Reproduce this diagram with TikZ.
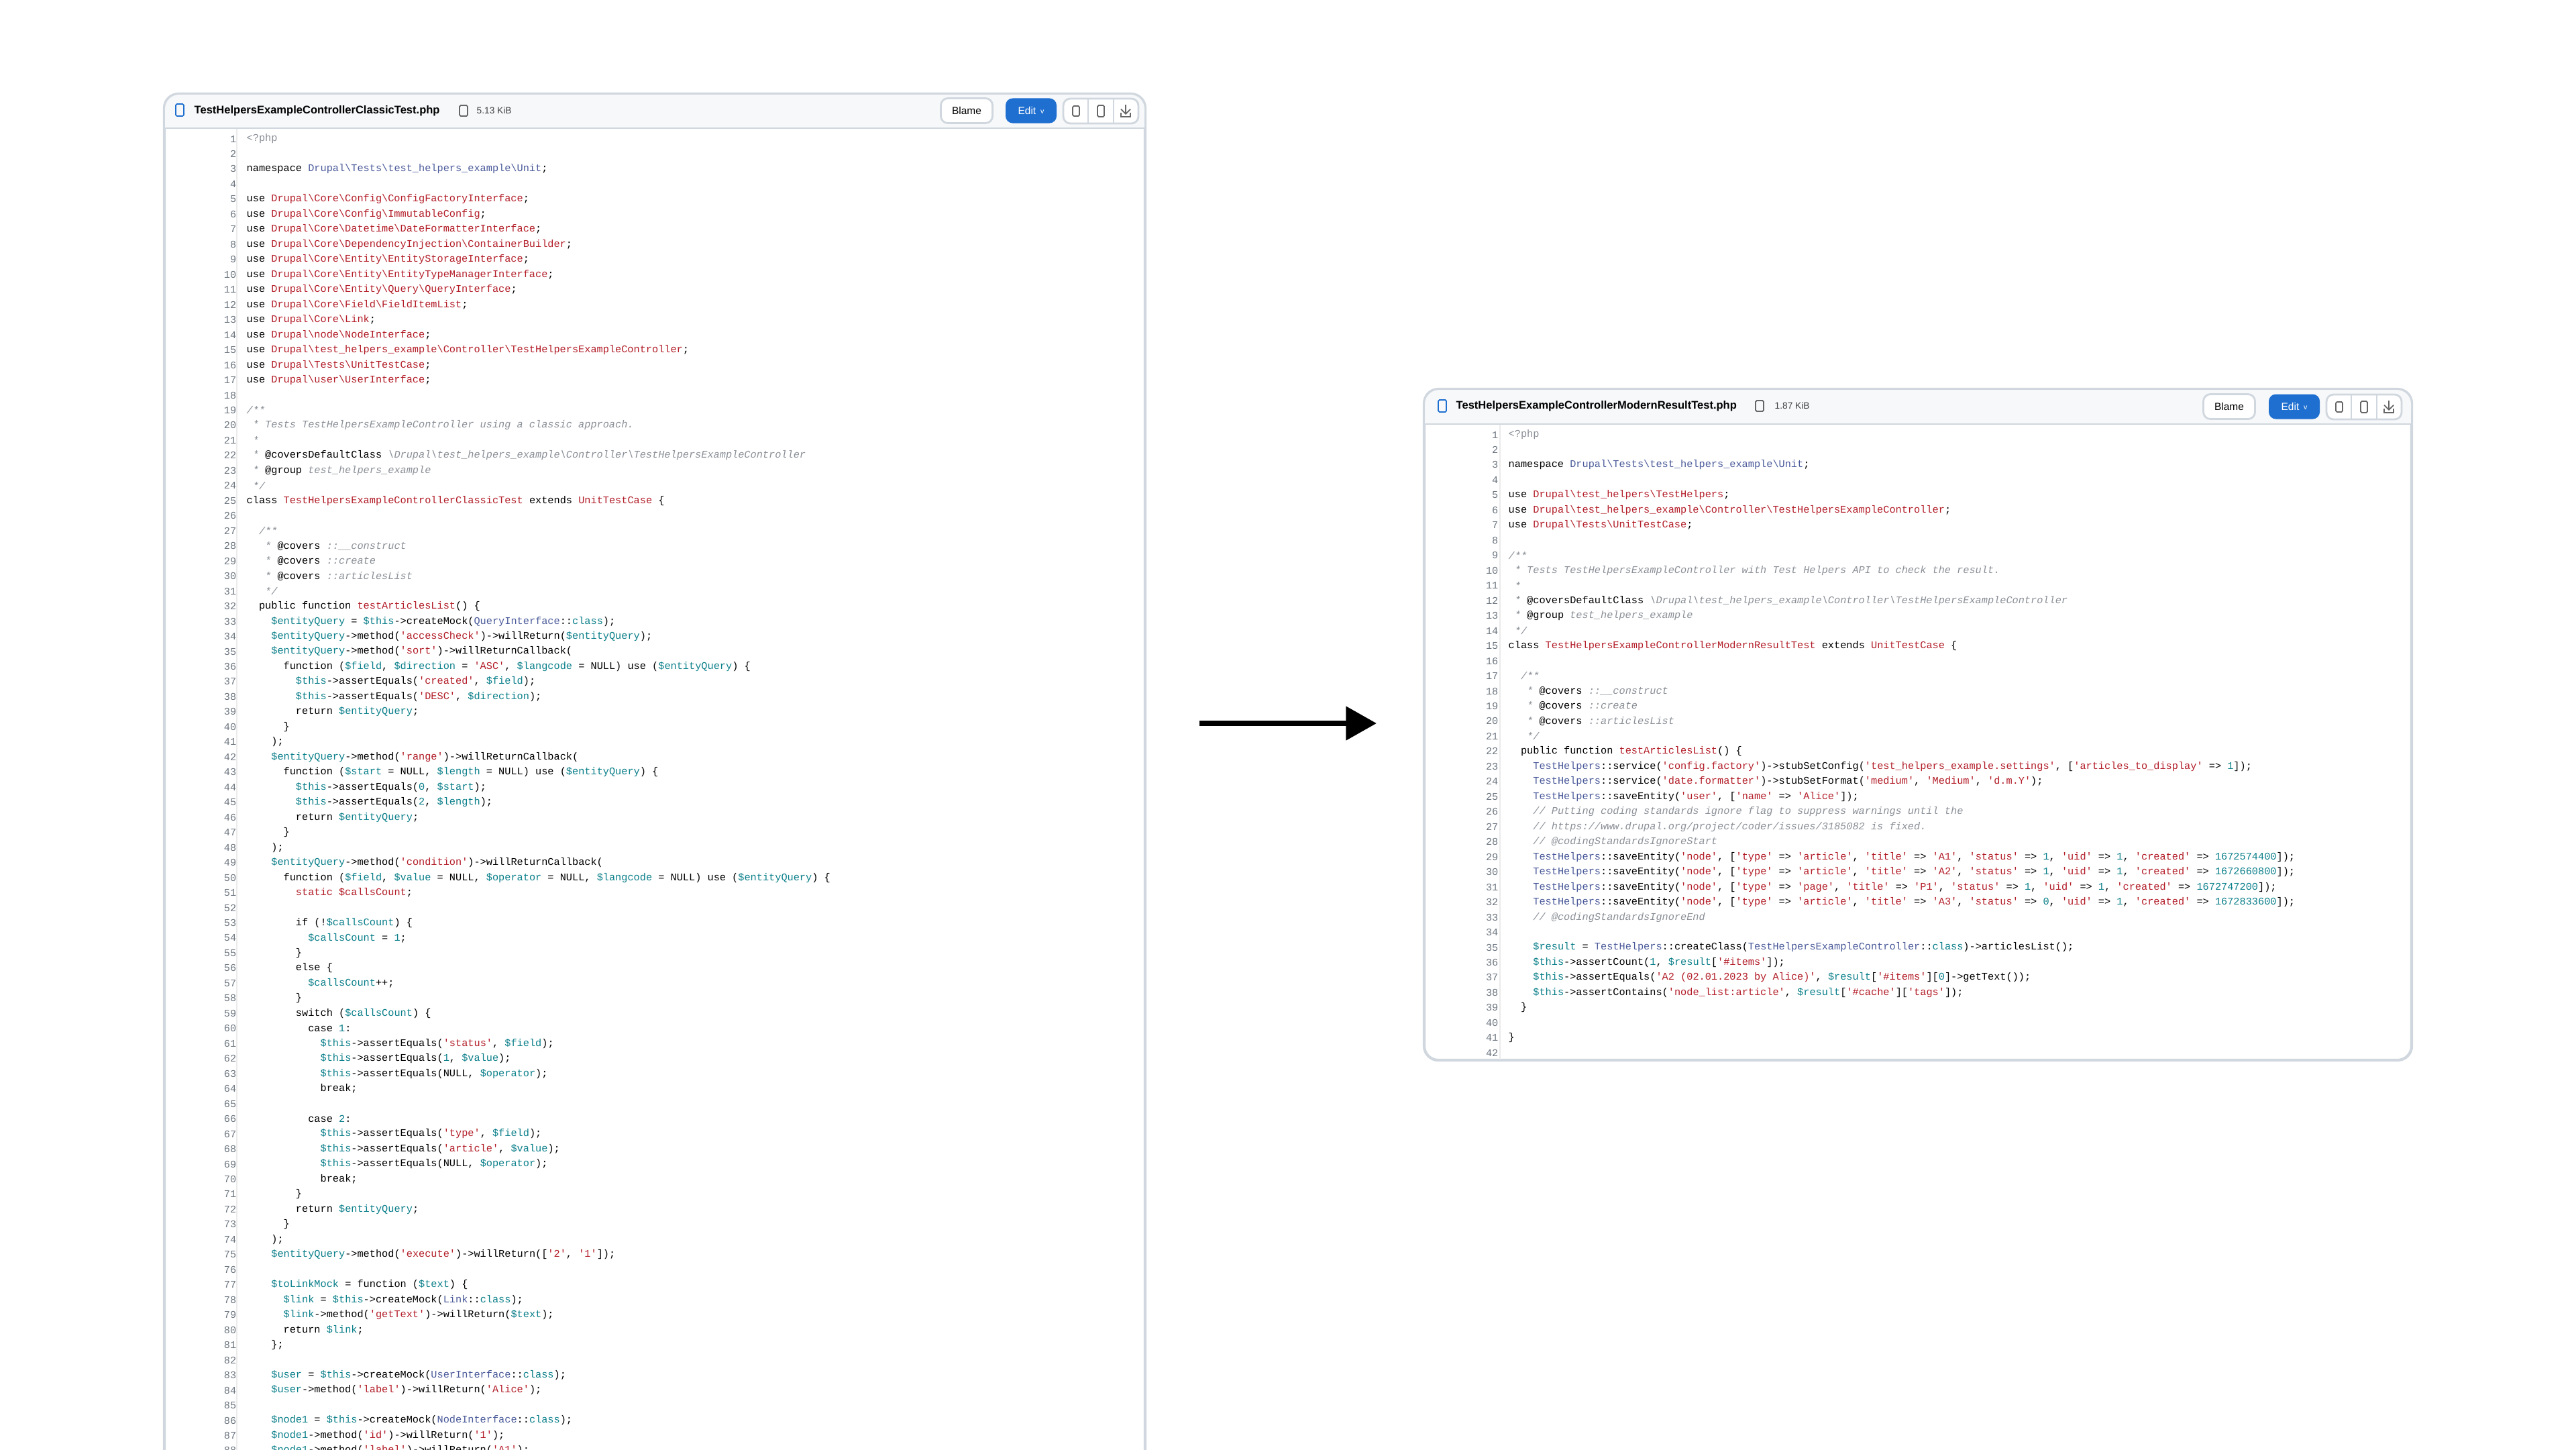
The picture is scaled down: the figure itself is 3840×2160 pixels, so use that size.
\documentclass[tikz,border=0pt]{standalone}
\usepackage{fontspec}
\setmainfont{Liberation Sans}
\setmonofont{Liberation Mono}
\usetikzlibrary{arrows.meta}
\definecolor{cred}{HTML}{B31D28}
\definecolor{cvar}{HTML}{0A7F8A}
\definecolor{cblu}{HTML}{4A5A9A}
\definecolor{cgray}{HTML}{8A8F96}
\definecolor{cnum}{HTML}{6E7781}
\definecolor{cbord}{HTML}{D0D7DE}
\definecolor{chead}{HTML}{F6F8FA}
\definecolor{cedit}{HTML}{1F6FD0}
\newcommand\bs{\textbackslash}
\newcommand\St[1]{\textcolor{cred}{#1}}
\newcommand\Kl[1]{\textcolor{cred}{#1}}
\newcommand\Vr[1]{\textcolor{cvar}{#1}}
\newcommand\Bu[1]{\textcolor{cblu}{#1}}
\newcommand\Cm[1]{\textcolor{cgray}{\itshape #1}}
\newcommand\Nu[1]{\textcolor{cvar}{#1}}
% one code line: number, indent (chars), text
\newcommand\cl[3]{%
  \node[lnum] (\pfx n#1) at (-14,{(#1-1)*22.47}) {#1};
  \node[code] (\pfx c#1) at ({#2*9.16},{(#1-1)*22.47}) {#3};}
\tikzset{
  lnum/.style={anchor=east,inner sep=0pt,font=\ttfamily\fontsize{4.34}{5}\selectfont,text=cnum},
  code/.style={anchor=west,inner sep=0pt,font=\ttfamily\fontsize{4.34}{5}\selectfont},
  panel/.style={draw=cbord,line width=1.2pt,fill=white,rounded corners=6pt},
  headbar/.style={fill=chead,rounded corners=6pt},
  fname/.style={anchor=west,inner sep=0pt,font=\bfseries\fontsize{4.7}{5}\selectfont},
  fsize/.style={anchor=west,inner sep=0pt,font=\fontsize{3.9}{4}\selectfont,text=black!75},
  btn/.style={draw=cbord,line width=0.8pt,fill=white,rounded corners=3pt,minimum width=0.77cm,minimum height=0.37cm,inner sep=0pt,font=\fontsize{4.4}{5}\selectfont},
  editbtn/.style={fill=cedit,rounded corners=3pt,inner sep=0pt,minimum width=0.76cm,minimum height=0.37cm,text=white,font=\fontsize{4.4}{5}\selectfont},
  ico/.style={draw=black!60,line width=0.5pt,rounded corners=0.5pt},
}
\begin{document}
\begin{tikzpicture}[x=0.01cm,y=-0.01cm]
\useasboundingbox[fill=white] (0,0) rectangle (3840,2160);
\clip (0,0) rectangle (3840,2160);

%Left panel
\draw[panel] (245,140) rectangle (1707,2260);
\fill[headbar] (246,141) rectangle (1706,191);
\fill[chead] (246,170) rectangle (1706,191);
\draw[cbord,line width=0.8pt] (246,191) -- (1706,191);
\draw[black!8,line width=0.6pt] (353,192) -- (353,2260);
\draw[ico,draw=cedit] (262,155) rectangle (274,173);
\node[fname] (lname) at (289,165) {TestHelpersExampleControllerClassicTest.php};
\draw[ico] (685,157) rectangle (697,173);
\node[fsize] (lsize) at (710,165) {5.13 KiB};
\node[btn] (lblame) at (1441,165) {Blame};
\node[editbtn] (ledit) at (1537,165) {Edit \,\raisebox{0.3pt}{\fontsize{3}{3}\selectfont v}};
\draw[cbord,line width=0.8pt,fill=white,rounded corners=3pt] (1585,147) rectangle (1697,184);
\draw[cbord,line width=0.8pt] (1622,147) -- (1622,184) (1660,147) -- (1660,184);
\draw[ico] (1599,158) rectangle (1609,173);
\draw[ico] (1636,157) rectangle (1646,174);
\draw[black!60,line width=0.5pt,-{Straight Barb[length=2pt]}] (1678,156) -- (1678,171);
\draw[black!60,line width=0.5pt] (1671,168) -- (1671,174) -- (1685,174) -- (1685,168);

\begin{scope}[shift={(367,207)}]
\def\pfx{l}
\cl{1}{0}{\textcolor{cgray}{<?php}}
\cl{2}{0}{}
\cl{3}{0}{namespace \Bu{Drupal\bs Tests\bs test\_helpers\_example\bs Unit};}
\cl{4}{0}{}
\cl{5}{0}{use \Kl{Drupal\bs Core\bs Config\bs ConfigFactoryInterface};}
\cl{6}{0}{use \Kl{Drupal\bs Core\bs Config\bs ImmutableConfig};}
\cl{7}{0}{use \Kl{Drupal\bs Core\bs Datetime\bs DateFormatterInterface};}
\cl{8}{0}{use \Kl{Drupal\bs Core\bs DependencyInjection\bs ContainerBuilder};}
\cl{9}{0}{use \Kl{Drupal\bs Core\bs Entity\bs EntityStorageInterface};}
\cl{10}{0}{use \Kl{Drupal\bs Core\bs Entity\bs EntityTypeManagerInterface};}
\cl{11}{0}{use \Kl{Drupal\bs Core\bs Entity\bs Query\bs QueryInterface};}
\cl{12}{0}{use \Kl{Drupal\bs Core\bs Field\bs FieldItemList};}
\cl{13}{0}{use \Kl{Drupal\bs Core\bs Link};}
\cl{14}{0}{use \Kl{Drupal\bs node\bs NodeInterface};}
\cl{15}{0}{use \Kl{Drupal\bs test\_helpers\_example\bs Controller\bs TestHelpersExampleController};}
\cl{16}{0}{use \Kl{Drupal\bs Tests\bs UnitTestCase};}
\cl{17}{0}{use \Kl{Drupal\bs user\bs UserInterface};}
\cl{18}{0}{}
\cl{19}{0}{\Cm{/**}}
\cl{20}{1}{\Cm{* Tests TestHelpersExampleController using a classic approach.}}
\cl{21}{1}{\Cm{*}}
\cl{22}{1}{\Cm{*} @coversDefaultClass \Cm{\bs Drupal\bs test\_helpers\_example\bs Controller\bs TestHelpersExampleController}}
\cl{23}{1}{\Cm{*} @group \Cm{test\_helpers\_example}}
\cl{24}{1}{\Cm{*/}}
\cl{25}{0}{class \Kl{TestHelpersExampleControllerClassicTest} extends \Kl{UnitTestCase} \{}
\cl{26}{0}{}
\cl{27}{2}{\Cm{/**}}
\cl{28}{3}{\Cm{*} @covers \Cm{::\_\_construct}}
\cl{29}{3}{\Cm{*} @covers \Cm{::create}}
\cl{30}{3}{\Cm{*} @covers \Cm{::articlesList}}
\cl{31}{3}{\Cm{*/}}
\cl{32}{2}{public function \Kl{testArticlesList}() \{}
\cl{33}{4}{\Vr{\$entityQuery} = \Vr{\$this}->createMock(\Bu{QueryInterface}::\Vr{class});}
\cl{34}{4}{\Vr{\$entityQuery}->method(\St{'accessCheck'})->willReturn(\Vr{\$entityQuery});}
\cl{35}{4}{\Vr{\$entityQuery}->method(\St{'sort'})->willReturnCallback(}
\cl{36}{6}{function (\Vr{\$field}, \Vr{\$direction} = \St{'ASC'}, \Vr{\$langcode} = NULL) use (\Vr{\$entityQuery}) \{}
\cl{37}{8}{\Vr{\$this}->assertEquals(\St{'created'}, \Vr{\$field});}
\cl{38}{8}{\Vr{\$this}->assertEquals(\St{'DESC'}, \Vr{\$direction});}
\cl{39}{8}{return \Vr{\$entityQuery};}
\cl{40}{6}{\}}
\cl{41}{4}{);}
\cl{42}{4}{\Vr{\$entityQuery}->method(\St{'range'})->willReturnCallback(}
\cl{43}{6}{function (\Vr{\$start} = NULL, \Vr{\$length} = NULL) use (\Vr{\$entityQuery}) \{}
\cl{44}{8}{\Vr{\$this}->assertEquals(\Nu{0}, \Vr{\$start});}
\cl{45}{8}{\Vr{\$this}->assertEquals(\Nu{2}, \Vr{\$length});}
\cl{46}{8}{return \Vr{\$entityQuery};}
\cl{47}{6}{\}}
\cl{48}{4}{);}
\cl{49}{4}{\Vr{\$entityQuery}->method(\St{'condition'})->willReturnCallback(}
\cl{50}{6}{function (\Vr{\$field}, \Vr{\$value} = NULL, \Vr{\$operator} = NULL, \Vr{\$langcode} = NULL) use (\Vr{\$entityQuery}) \{}
\cl{51}{8}{\Kl{static \$callsCount};}
\cl{52}{0}{}
\cl{53}{8}{if (!\Vr{\$callsCount}) \{}
\cl{54}{10}{\Vr{\$callsCount} = \Nu{1};}
\cl{55}{8}{\}}
\cl{56}{8}{else \{}
\cl{57}{10}{\Vr{\$callsCount}++;}
\cl{58}{8}{\}}
\cl{59}{8}{switch (\Vr{\$callsCount}) \{}
\cl{60}{10}{case \Nu{1}:}
\cl{61}{12}{\Vr{\$this}->assertEquals(\St{'status'}, \Vr{\$field});}
\cl{62}{12}{\Vr{\$this}->assertEquals(\Nu{1}, \Vr{\$value});}
\cl{63}{12}{\Vr{\$this}->assertEquals(NULL, \Vr{\$operator});}
\cl{64}{12}{break;}
\cl{65}{0}{}
\cl{66}{10}{case \Nu{2}:}
\cl{67}{12}{\Vr{\$this}->assertEquals(\St{'type'}, \Vr{\$field});}
\cl{68}{12}{\Vr{\$this}->assertEquals(\St{'article'}, \Vr{\$value});}
\cl{69}{12}{\Vr{\$this}->assertEquals(NULL, \Vr{\$operator});}
\cl{70}{12}{break;}
\cl{71}{8}{\}}
\cl{72}{8}{return \Vr{\$entityQuery};}
\cl{73}{6}{\}}
\cl{74}{4}{);}
\cl{75}{4}{\Vr{\$entityQuery}->method(\St{'execute'})->willReturn([\St{'2'}, \St{'1'}]);}
\cl{76}{0}{}
\cl{77}{4}{\Vr{\$toLinkMock} = function (\Vr{\$text}) \{}
\cl{78}{6}{\Vr{\$link} = \Vr{\$this}->createMock(\Bu{Link}::\Vr{class});}
\cl{79}{6}{\Vr{\$link}->method(\St{'getText'})->willReturn(\Vr{\$text});}
\cl{80}{6}{return \Vr{\$link};}
\cl{81}{4}{\};}
\cl{82}{0}{}
\cl{83}{4}{\Vr{\$user} = \Vr{\$this}->createMock(\Bu{UserInterface}::\Vr{class});}
\cl{84}{4}{\Vr{\$user}->method(\St{'label'})->willReturn(\St{'Alice'});}
\cl{85}{0}{}
\cl{86}{4}{\Vr{\$node1} = \Vr{\$this}->createMock(\Bu{NodeInterface}::\Vr{class});}
\cl{87}{4}{\Vr{\$node1}->method(\St{'id'})->willReturn(\St{'1'});}
\cl{88}{4}{\Vr{\$node1}->method(\St{'label'})->willReturn(\St{'A1'});}
\end{scope}

%Arrow
\coordinate (atail) at (1788,1078);
\coordinate (ahead) at (2052,1078);
\draw[line width=2.2pt,-{Triangle[length=13pt,width=14pt]}] (atail) -- (ahead);

%Right panel
\draw[panel] (2123,580) rectangle (3595,1580);
\fill[headbar] (2124,581) rectangle (3594,632);
\fill[chead] (2124,610) rectangle (3594,632);
\draw[cbord,line width=0.8pt] (2124,632) -- (3594,632);
\draw[black!8,line width=0.6pt] (2236,633) -- (2236,1579);
\draw[ico,draw=cedit] (2144,596) rectangle (2156,614);
\node[fname] (rname) at (2170,605) {TestHelpersExampleControllerModernResultTest.php};
\draw[ico] (2617,597) rectangle (2629,613);
\node[fsize] (rsize) at (2645,605) {1.87 KiB};
\node[btn] (rblame) at (3323,606) {Blame};
\node[editbtn] (redit) at (3420,606) {Edit \,\raisebox{0.3pt}{\fontsize{3}{3}\selectfont v}};
\draw[cbord,line width=0.8pt,fill=white,rounded corners=3pt] (3468,588) rectangle (3580,625);
\draw[cbord,line width=0.8pt] (3505,588) -- (3505,625) (3543,588) -- (3543,625);
\draw[ico] (3482,599) rectangle (3492,614);
\draw[ico] (3519,598) rectangle (3529,615);
\draw[black!60,line width=0.5pt,-{Straight Barb[length=2pt]}] (3561,597) -- (3561,612);
\draw[black!60,line width=0.5pt] (3554,609) -- (3554,615) -- (3568,615) -- (3568,609);

\begin{scope}[shift={(2248,648)}]
\def\pfx{r}
\cl{1}{0}{\textcolor{cgray}{<?php}}
\cl{2}{0}{}
\cl{3}{0}{namespace \Bu{Drupal\bs Tests\bs test\_helpers\_example\bs Unit};}
\cl{4}{0}{}
\cl{5}{0}{use \Kl{Drupal\bs test\_helpers\bs TestHelpers};}
\cl{6}{0}{use \Kl{Drupal\bs test\_helpers\_example\bs Controller\bs TestHelpersExampleController};}
\cl{7}{0}{use \Kl{Drupal\bs Tests\bs UnitTestCase};}
\cl{8}{0}{}
\cl{9}{0}{\Cm{/**}}
\cl{10}{1}{\Cm{* Tests TestHelpersExampleController with Test Helpers API to check the result.}}
\cl{11}{1}{\Cm{*}}
\cl{12}{1}{\Cm{*} @coversDefaultClass \Cm{\bs Drupal\bs test\_helpers\_example\bs Controller\bs TestHelpersExampleController}}
\cl{13}{1}{\Cm{*} @group \Cm{test\_helpers\_example}}
\cl{14}{1}{\Cm{*/}}
\cl{15}{0}{class \Kl{TestHelpersExampleControllerModernResultTest} extends \Kl{UnitTestCase} \{}
\cl{16}{0}{}
\cl{17}{2}{\Cm{/**}}
\cl{18}{3}{\Cm{*} @covers \Cm{::\_\_construct}}
\cl{19}{3}{\Cm{*} @covers \Cm{::create}}
\cl{20}{3}{\Cm{*} @covers \Cm{::articlesList}}
\cl{21}{3}{\Cm{*/}}
\cl{22}{2}{public function \Kl{testArticlesList}() \{}
\cl{23}{4}{\Bu{TestHelpers}::service(\St{'config.factory'})->stubSetConfig(\St{'test\_helpers\_example.settings'}, [\St{'articles\_to\_display'} => \Nu{1}]);}
\cl{24}{4}{\Bu{TestHelpers}::service(\St{'date.formatter'})->stubSetFormat(\St{'medium'}, \St{'Medium'}, \St{'d.m.Y'});}
\cl{25}{4}{\Bu{TestHelpers}::saveEntity(\St{'user'}, [\St{'name'} => \St{'Alice'}]);}
\cl{26}{4}{\Cm{// Putting coding standards ignore flag to suppress warnings until the}}
\cl{27}{4}{\Cm{// https://www.drupal.org/project/coder/issues/3185082 is fixed.}}
\cl{28}{4}{\Cm{// @codingStandardsIgnoreStart}}
\cl{29}{4}{\Bu{TestHelpers}::saveEntity(\St{'node'}, [\St{'type'} => \St{'article'}, \St{'title'} => \St{'A1'}, \St{'status'} => \Nu{1}, \St{'uid'} => \Nu{1}, \St{'created'} => \Nu{1672574400}]);}
\cl{30}{4}{\Bu{TestHelpers}::saveEntity(\St{'node'}, [\St{'type'} => \St{'article'}, \St{'title'} => \St{'A2'}, \St{'status'} => \Nu{1}, \St{'uid'} => \Nu{1}, \St{'created'} => \Nu{1672660800}]);}
\cl{31}{4}{\Bu{TestHelpers}::saveEntity(\St{'node'}, [\St{'type'} => \St{'page'}, \St{'title'} => \St{'P1'}, \St{'status'} => \Nu{1}, \St{'uid'} => \Nu{1}, \St{'created'} => \Nu{1672747200}]);}
\cl{32}{4}{\Bu{TestHelpers}::saveEntity(\St{'node'}, [\St{'type'} => \St{'article'}, \St{'title'} => \St{'A3'}, \St{'status'} => \Nu{0}, \St{'uid'} => \Nu{1}, \St{'created'} => \Nu{1672833600}]);}
\cl{33}{4}{\Cm{// @codingStandardsIgnoreEnd}}
\cl{34}{0}{}
\cl{35}{4}{\Vr{\$result} = \Bu{TestHelpers}::createClass(\Bu{TestHelpersExampleController}::\Vr{class})->articlesList();}
\cl{36}{4}{\Vr{\$this}->assertCount(\Nu{1}, \Vr{\$result}[\St{'\#items'}]);}
\cl{37}{4}{\Vr{\$this}->assertEquals(\St{'A2 (02.01.2023 by Alice)'}, \Vr{\$result}[\St{'\#items'}][\Nu{0}]->getText());}
\cl{38}{4}{\Vr{\$this}->assertContains(\St{'node\_list:article'}, \Vr{\$result}[\St{'\#cache'}][\St{'tags'}]);}
\cl{39}{2}{\}}
\cl{40}{0}{}
\cl{41}{0}{\}}
\cl{42}{0}{}
\end{scope}
\end{tikzpicture}
\end{document}
